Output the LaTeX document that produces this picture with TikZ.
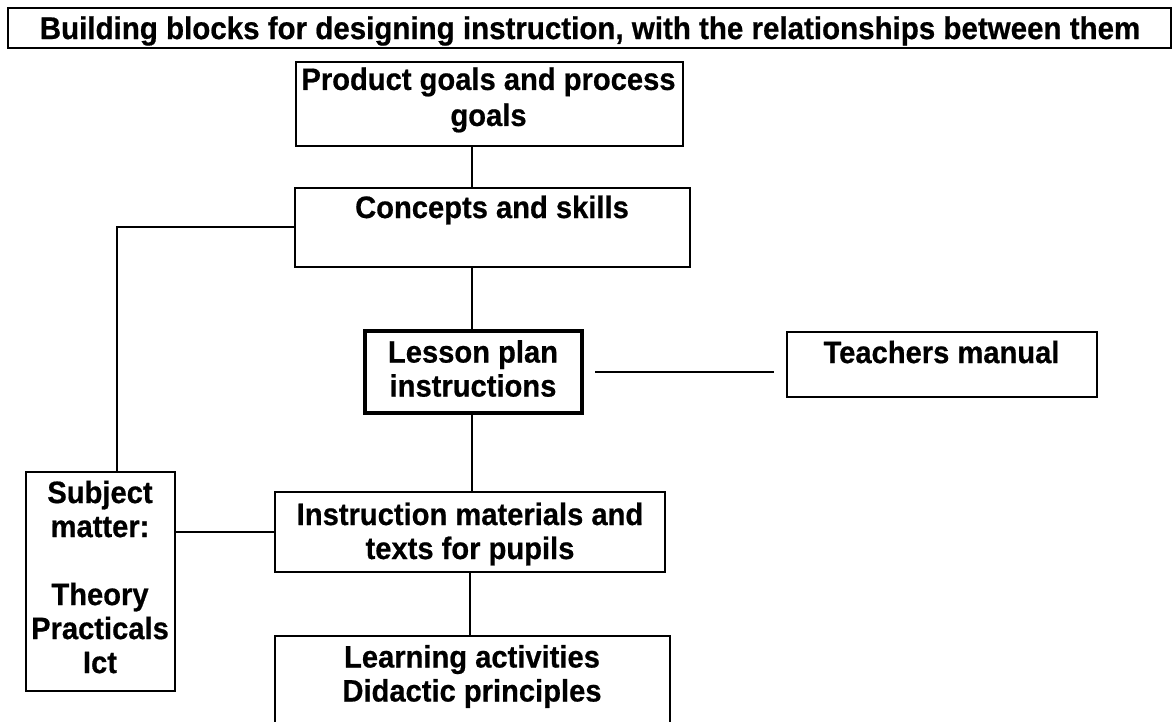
\documentclass[tikz,border=0pt]{standalone}
\usepackage{fontspec}
\setmainfont{Liberation Sans}
% a slightly narrow, heavy sans for all labels
\newfontfamily\labelfont[FakeStretch=0.94, FakeBold=0.6]{Liberation Sans Bold}
\begin{document}
\begin{tikzpicture}[x=1pt,y=-1pt,
  box/.style={draw, line width=2.3pt, inner sep=0pt, outer sep=0pt},
  keybox/.style={box, line width=4.5pt},
  lbl/.style={font=\labelfont\fontsize{31}{34}\selectfont, align=center, inner sep=0pt},
  link/.style={line width=2pt}]
\useasboundingbox (0,0) rectangle (1176,722);
\clip (0,0) rectangle (1176,722);
\fill[white] (0,0) rectangle (1176,722);

% heading
\node[box, minimum width=1163pt, minimum height=40pt] (titlebox) at (589.5,28) {};
\node[lbl, font=\labelfont\fontsize{31.4}{34}\selectfont] (title) at (590,31)
  {Building blocks for designing instruction, with the relationships between them};

% building blocks
\node[box, minimum width=387pt, minimum height=84pt] (prod) at (489.5,104) {};
\node[lbl, font=\labelfont\fontsize{31}{36}\selectfont] (prodtxt) at (488.5,100)
  {Product goals and process\\goals};

\node[box, minimum width=395pt, minimum height=79pt] (conc) at (492.5,227.5) {};
\node[lbl] (conctxt) at (492,210) {Concepts and skills};

\node[keybox, minimum width=217pt, minimum height=82pt] (lesson) at (473.5,372) {};
\node[lbl] (lessontxt) at (473,368.5) {Lesson plan\\instructions};

\node[box, minimum width=310pt, minimum height=65pt] (teach) at (942,364.5) {};
\node[lbl] (teachtxt) at (941.5,352) {Teachers manual};

\node[box, minimum width=390pt, minimum height=80pt] (instr) at (470,532) {};
\node[lbl] (instrtxt) at (470,534) {Instruction materials and\\texts for pupils};

\node[box, minimum width=149pt, minimum height=219pt] (subj) at (100.5,581.5) {};
\node[lbl] (subjtxt) at (100,577)
  {Subject\\matter:\\[34pt]Theory\\Practicals\\Ict};

% this block runs on past the lower edge
\node[box, minimum width=395pt, minimum height=124pt] (learn) at (472.5,698) {};
\node[lbl] (learntxt) at (472,676.5) {Learning activities\\Didactic principles};

% relationships
\coordinate (pc) at ([xshift=-17.5pt]prod.south);
\draw[link] (pc) -- (pc |- conc.north);
\coordinate (cl) at ([xshift=-20.5pt]conc.south);
\draw[link] (cl) -- (cl |- lesson.north);
\coordinate (sc) at ([xshift=16.5pt]subj.north);
\draw[link] (conc.west) -| (sc);
\coordinate (lt) at ([xshift=13pt]lesson.east);
\coordinate (tl) at ([xshift=-13pt]teach.west);
\draw[link] (lt) -- (tl |- lt);
\coordinate (li) at ([xshift=-1.5pt]lesson.south);
\draw[link] (li) -- (li |- instr.north);
\draw[link] (instr.west) -- (instr.west -| subj.east);
\draw[link] (instr.south) -- (instr.south |- learn.north);
\end{tikzpicture}
\end{document}
